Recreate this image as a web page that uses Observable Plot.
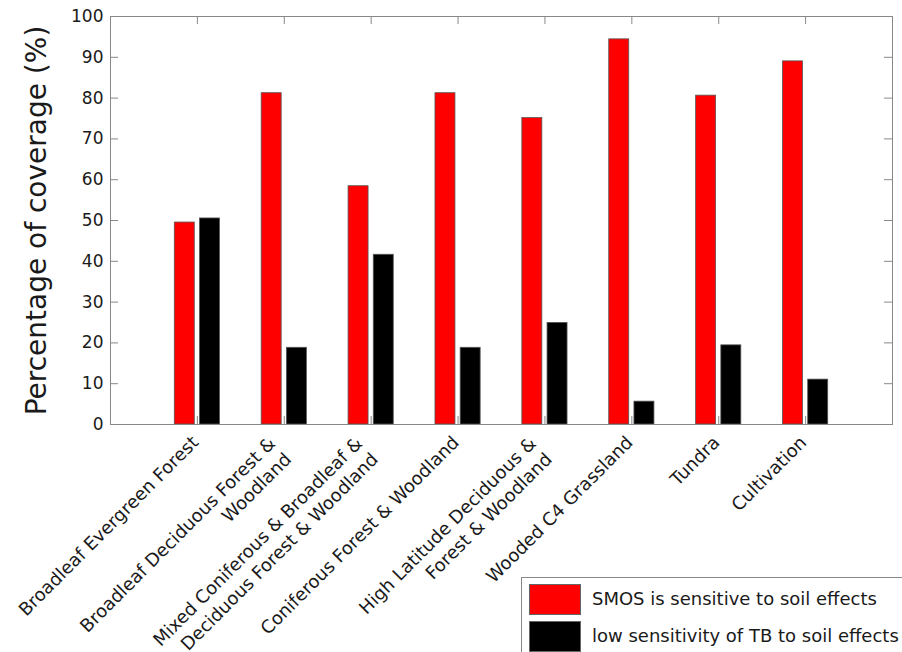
<!DOCTYPE html>
<html><head><meta charset="utf-8">
<script src="https://cdn.jsdelivr.net/npm/d3@7"></script>
<script src="https://cdn.jsdelivr.net/npm/@observablehq/plot@0.6"></script>
<style>
body{margin:0;background:#fff;font-family:"DejaVu Sans",sans-serif;}
#wrap{position:relative;width:902px;height:652px;overflow:hidden;}
#legend{position:absolute;left:521px;top:577px;width:420px;height:100px;border:1px solid #888;background:#fff;box-sizing:border-box;}
.sw{position:absolute;left:7px;width:52px;height:31px;box-sizing:border-box;border:1px solid #666;}
.lt{position:absolute;left:70px;font-size:18px;color:#1a1a1a;white-space:nowrap;line-height:22px;}
</style></head><body><div id="wrap"></div>
<script>
const categories = [
  "Broadleaf Evergreen Forest",
  "Broadleaf Deciduous Forest &\nWoodland",
  "Mixed Coniferous & Broadleaf &\nDeciduous Forest & Woodland",
  "Coniferous Forest & Woodland",
  "High Latitude Deciduous &\nForest & Woodland",
  "Wooded C4 Grassland",
  "Tundra",
  "Cultivation"
];
const sensitive = [49.5, 81.2, 58.4, 81.2, 75.1, 94.4, 80.6, 89.0];
const lowSensitivity = [50.5, 18.8, 41.6, 18.8, 24.9, 5.6, 19.4, 11.0];
const yTicks = [0, 10, 20, 30, 40, 50, 60, 70, 80, 90, 100];
const seriesNames = ["SMOS is sensitive to soil effects", "low sensitivity of TB to soil effects"];
const seriesColors = ["#ff0000", "#000000"];

const pos = categories.map((c, i) => i + 1);
const bars = [];
categories.forEach((c, i) => {
  bars.push({pos: pos[i], x1: pos[i] - 0.26, x2: pos[i] - 0.03, value: sensitive[i], series: seriesNames[0]});
  bars.push({pos: pos[i], x1: pos[i] + 0.03, x2: pos[i] + 0.26, value: lowSensitivity[i], series: seriesNames[1]});
});
const labels = categories.map((c, i) => ({pos: pos[i], text: c, multi: c.includes("\n")}));
const grey = "#888";
const tx = 0.092, ty = 1.96;

const chart = Plot.plot({
  width: 902, height: 652,
  marginLeft: 110, marginRight: 10, marginTop: 16, marginBottom: 228,
  style: {fontFamily: "DejaVu Sans, sans-serif", fontSize: "17px", color: "#1a1a1a", background: "#fff"},
  x: {domain: [0, 9], axis: null},
  y: {domain: [0, 100]},
  color: {domain: seriesNames, range: seriesColors},
  marks: [
    Plot.rect(bars, {x1: "x1", x2: "x2", y1: 0, y2: "value", fill: "series", stroke: "#555", strokeWidth: 0.8}),
    Plot.ruleY(yTicks, {y: d => d, x1: 0, x2: tx, stroke: grey}),
    Plot.ruleY(yTicks, {y: d => d, x1: 9 - tx, x2: 9, stroke: grey}),
    Plot.ruleX(pos, {x: d => d, y1: 100 - ty, y2: 100, stroke: grey}),
    Plot.ruleX(pos, {x: d => d, y1: 0, y2: ty, stroke: grey}),
    Plot.axisY({ticks: yTicks, tickSize: 0, tickPadding: 7, label: null, fontSize: 17}),
    Plot.text(["Percentage of coverage (%)"], {frameAnchor: "left", textAnchor: "middle", lineAnchor: "middle", rotate: -90, dx: -73, fontSize: 28, fill: "#1a1a1a"}),
    Plot.text(labels.filter(d => !d.multi), {x: "pos", y: 0, text: "text", rotate: -45, textAnchor: "end", lineAnchor: "middle", dx: -2, dy: 15, fontSize: 18, fill: "#1a1a1a"}),
    Plot.text(labels.filter(d => d.multi), {x: "pos", y: 0, text: "text", rotate: -45, textAnchor: "end", lineAnchor: "middle", lineHeight: 1.25, dx: -5, dy: 23, fontSize: 18, fill: "#1a1a1a"}),
    Plot.frame({stroke: grey})
  ]
});
const wrap = document.getElementById("wrap");
wrap.appendChild(chart);

const legend = document.createElement("div");
legend.id = "legend";
seriesNames.forEach((name, i) => {
  const sw = document.createElement("div");
  sw.className = "sw";
  sw.style.top = (6 + i * 37) + "px";
  sw.style.background = seriesColors[i];
  legend.appendChild(sw);
  const t = document.createElement("div");
  t.className = "lt";
  t.style.top = (10 + i * 37) + "px";
  t.textContent = name;
  legend.appendChild(t);
});
wrap.appendChild(legend);
</script>
</body></html>
